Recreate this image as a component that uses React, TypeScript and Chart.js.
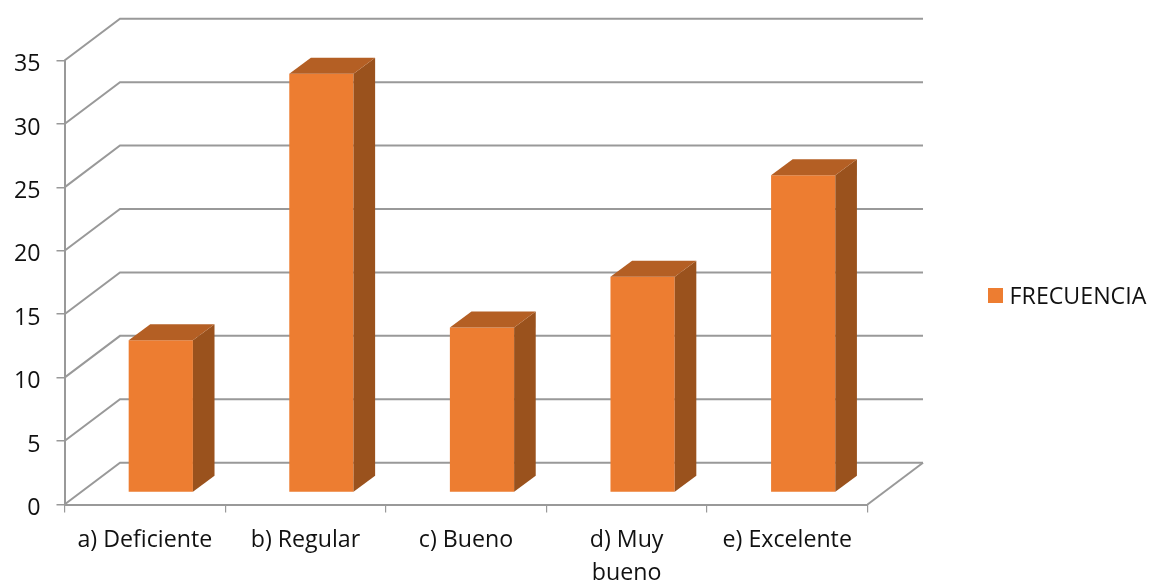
import React, { useEffect, useRef } from "react";
import { Chart, registerables } from "chart.js";

Chart.register(...registerables);

// Survey results
const categories: (string | string[])[] = [
  "a) Deficiente",
  "b) Regular",
  "c) Bueno",
  ["d) Muy", "bueno"],
  "e) Excelente",
];
const frecuencia = [12, 33, 13, 17, 25];
const seriesName = "FRECUENCIA";

const FONT_FAMILY = "Open Sans";
const FONT_SIZE = 23.2;
const AXIS_GREY = "#999999";
const TEXT = "#111111";
const FRONT = "#ED7D31";
const SIDE = "#9A521D";
const TOP = "#B45F24";
const SWATCH = 15;
const SWATCH_RAISE = 2;

// Oblique projection: how far the back wall sits from the front plane,
// and how far the bars are pushed into the floor.
const WALL_DX = 55.5;
const WALL_DY = -41.8;
const BAR_DX = 16;
const BAR_DY = -12;
const BAR_DEPTH_DX = 21.6;
const BAR_DEPTH_DY = -16;

const wallsPlugin = {
  id: "walls",
  beforeDatasetsDraw(chart: any) {
    const { ctx, scales } = chart;
    const y = scales.y;
    const left = scales.x.left;
    const right = scales.x.right;
    ctx.save();
    ctx.strokeStyle = AXIS_GREY;
    ctx.lineWidth = 2;
    ctx.lineJoin = "miter";
    y.ticks.forEach((t: any) => {
      const py = y.getPixelForValue(t.value);
      ctx.beginPath();
      ctx.moveTo(left, py);
      ctx.lineTo(left + WALL_DX, py + WALL_DY);
      ctx.lineTo(right + WALL_DX, py + WALL_DY);
      ctx.stroke();
    });
    // right edge of the floor
    const y0 = y.getPixelForValue(0);
    ctx.beginPath();
    ctx.moveTo(right, y0);
    ctx.lineTo(right + WALL_DX, y0 + WALL_DY);
    ctx.stroke();
    ctx.restore();
  },
};

const extrudePlugin = {
  id: "extrude",
  beforeDatasetDraw(chart: any) {
    chart.ctx.save();
    chart.ctx.translate(BAR_DX, BAR_DY);
  },
  afterDatasetDraw(chart: any, args: any) {
    const { ctx } = chart;
    chart.getDatasetMeta(args.index).data.forEach((bar: any) => {
      const { x, y, width, base } = bar.getProps(["x", "y", "width", "base"], true);
      const l = x - width / 2;
      const r = x + width / 2;
      ctx.fillStyle = SIDE;
      ctx.beginPath();
      ctx.moveTo(r, y);
      ctx.lineTo(r + BAR_DEPTH_DX, y + BAR_DEPTH_DY);
      ctx.lineTo(r + BAR_DEPTH_DX, base + BAR_DEPTH_DY);
      ctx.lineTo(r, base);
      ctx.closePath();
      ctx.fill();
      ctx.fillStyle = TOP;
      ctx.beginPath();
      ctx.moveTo(l, y);
      ctx.lineTo(l + BAR_DEPTH_DX, y + BAR_DEPTH_DY);
      ctx.lineTo(r + BAR_DEPTH_DX, y + BAR_DEPTH_DY);
      ctx.lineTo(r, y);
      ctx.closePath();
      ctx.fill();
    });
    ctx.restore();
  },
};

// Moves the legend out of the plot into the free space on the right,
// and sets the value labels slightly below their tick marks.
const placementPlugin = {
  id: "placement",
  afterLayout(chart: any) {
    const legend = chart.legend;
    const w = legend.right - legend.left;
    const h = legend.bottom - legend.top;
    legend.left = 983;
    legend.right = 983 + w;
    legend.top = 297.5 - h / 2;
    legend.bottom = 297.5 + h / 2;
  },
  beforeDraw(chart: any) {
    chart.scales.y.getLabelItems().forEach((item: any) => {
      item.textOffset = 4;
    });
  },
};

// Square legend marker, drawn high in its canvas so it sits above the text's middle.
function makeSwatch(): HTMLCanvasElement {
  const swatch = document.createElement("canvas");
  swatch.width = SWATCH;
  swatch.height = SWATCH + 2 * SWATCH_RAISE;
  const g = swatch.getContext("2d");
  if (g) {
    g.fillStyle = FRONT;
    g.fillRect(0, 0, SWATCH, SWATCH);
  }
  return swatch;
}

export default function App() {
  const ref = useRef<HTMLCanvasElement | null>(null);

  useEffect(() => {
    if (!ref.current) return;
    const chart = new Chart(ref.current, {
      type: "bar",
      data: {
        labels: categories as any,
        datasets: [
          {
            label: seriesName,
            data: frecuencia,
            backgroundColor: FRONT,
            borderWidth: 0,
            barPercentage: 0.4,
            categoryPercentage: 1,
          },
        ],
      },
      plugins: [wallsPlugin, extrudePlugin, placementPlugin],
      options: {
        animation: false,
        responsive: false,
        layout: { padding: { left: 0, top: 60.5, right: 284.5, bottom: 0 } },
        plugins: {
          tooltip: { enabled: false },
          legend: {
            position: "chartArea",
            labels: {
              color: TEXT,
              usePointStyle: true,
              pointStyle: makeSwatch(),
              pointStyleWidth: 5,
              padding: 10,
              font: { family: FONT_FAMILY, size: FONT_SIZE },
            },
          },
        },
        scales: {
          x: {
            afterFit(scale: any) {
              scale.height = 75.5;
            },
            border: { color: AXIS_GREY, width: 2 },
            grid: {
              drawOnChartArea: false,
              color: AXIS_GREY,
              lineWidth: 1.2,
              tickLength: 8,
            },
            ticks: {
              color: TEXT,
              autoSkip: false,
              maxRotation: 0,
              padding: 11,
              font: { family: FONT_FAMILY, size: FONT_SIZE, lineHeight: 1.43 },
            },
          },
          y: {
            min: 0,
            max: 35,
            afterFit(scale: any) {
              scale.width = 64.5;
            },
            border: { color: AXIS_GREY, width: 2 },
            grid: {
              drawOnChartArea: false,
              color: AXIS_GREY,
              lineWidth: 1.5,
              tickLength: 8,
            },
            ticks: {
              stepSize: 5,
              color: TEXT,
              padding: 16,
              font: { family: FONT_FAMILY, size: FONT_SIZE },
            },
          },
        },
      },
    } as any);
    return () => chart.destroy();
  }, []);

  return (
    <canvas
      ref={ref}
      width={1152}
      height={580}
      style={{ position: "absolute", left: 0, top: 0, display: "block" }}
    />
  );
}
